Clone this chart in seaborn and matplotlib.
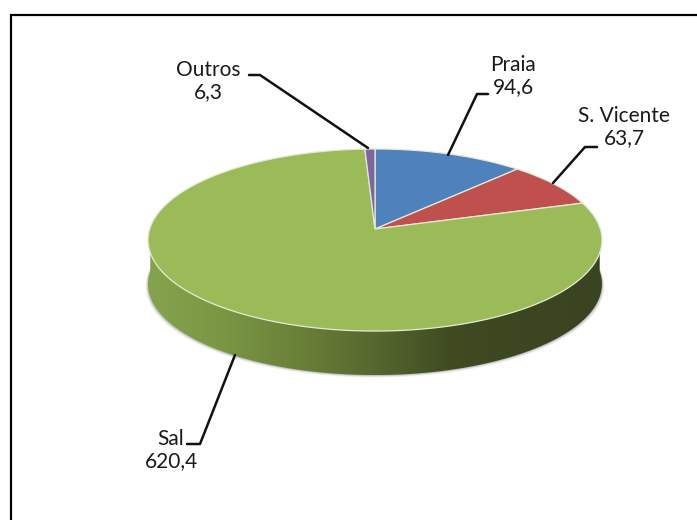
import numpy as np
import matplotlib
matplotlib.use('Agg')
import matplotlib.pyplot as plt
from matplotlib.colors import to_rgb
from matplotlib.patches import Polygon
import seaborn as sns

labels = ['Praia', 'S. Vicente', 'Sal', 'Outros']
values = [94.6, 63.7, 620.4, 6.3]
value_labels = ['94,6', '63,7', '620,4', '6,3']
colors = ['#4f81bd', '#c0504d', '#9bbb59', '#8064a2']

sns.set_theme(style='white')
plt.rcParams['font.family'] = ['Lato', 'DejaVu Sans']

# pie placement in pixels, the tilt gives the 3d look
CX, CY = 375, 229
DX, DY = 225.3, 89.7
TILT = 0.121
DEPTH = 44


def project(theta):
    # theta is clockwise from 12 o'clock
    d = 1 + TILT * np.cos(theta)
    return CX + DX * np.sin(theta) / d, CY - DY * np.cos(theta) / d


fig = plt.figure(figsize=(6.97, 5.2), dpi=100)
ax = fig.add_axes([0, 0, 1, 1])
ax.axis('off')

# frame, only top and left are there
ax.plot([11, 11, 697], [520, 15, 15], color='black', lw=1.6, zorder=1, solid_joinstyle='miter')

# soft shadow under the wall
circle = np.linspace(0, 2 * np.pi, 400)
px, py = project(circle)
for grow, a in [(2.5, 0.10), (1.6, 0.18), (0.8, 0.30)]:
    ax.fill(CX + (px - CX) * (1 + grow / 227), py + DEPTH + grow, color='#808080', alpha=a, lw=0, zorder=1)

# wall of the Sal slice, darker to the right
front = np.linspace(np.pi / 2 - 0.02, 3 * np.pi / 2 + 0.02, 260)
fx, fy = project(front)
outline = np.c_[np.r_[fx, fx[::-1]], np.r_[fy, fy[::-1] + DEPTH]]
wall = sns.blend_palette(['#86a34c', '#7a9644', '#6a8038', '#55682e', '#404b22', '#3c4620', '#3a4420'], 300)
gradient = np.array([to_rgb(c) for c in wall])[None, :, :]
img = ax.imshow(gradient, extent=[fx.min(), fx.max(), fy.max() + DEPTH, fy.min()],
                aspect='auto', zorder=2)
clip = Polygon(outline, transform=ax.transData)
img.set_clip_path(clip)

# top face
angles = np.deg2rad(np.cumsum([0] + values) / np.sum(values) * 360)
for i in range(len(values)):
    t = np.linspace(angles[i], angles[i + 1], 200)
    x, y = project(t)
    ax.fill(np.r_[CX, x], np.r_[CY, y], facecolor=colors[i], edgecolor='#e3ebd3', lw=0.9, zorder=3)

# leader lines and labels
leaders = {
    'Praia': ([448, 477, 488], [155, 94, 94]),
    'S. Vicente': ([553, 585, 597], [183, 147, 147]),
    'Sal': ([235, 200, 187], [355, 444, 444]),
    'Outros': ([368, 260, 249], [148, 75, 75]),
}
for name, (lx, ly) in leaders.items():
    ax.plot(lx, ly, color='#111111', lw=1.8, solid_joinstyle='round', zorder=4)

label_pos = {'Praia': (513, 76), 'S. Vicente': (624, 127), 'Sal': (171, 450), 'Outros': (208, 81)}
for name, val in zip(labels, value_labels):
    tx, ty = label_pos[name]
    ax.text(tx, ty, f'{name}\n{val}', ha='center', va='center', fontsize=15,
            linespacing=1.15, color='#1a1a1a', zorder=5)

ax.set_xlim(0, 697)
ax.set_ylim(520, 0)
fig.savefig('out.png', dpi=100)
